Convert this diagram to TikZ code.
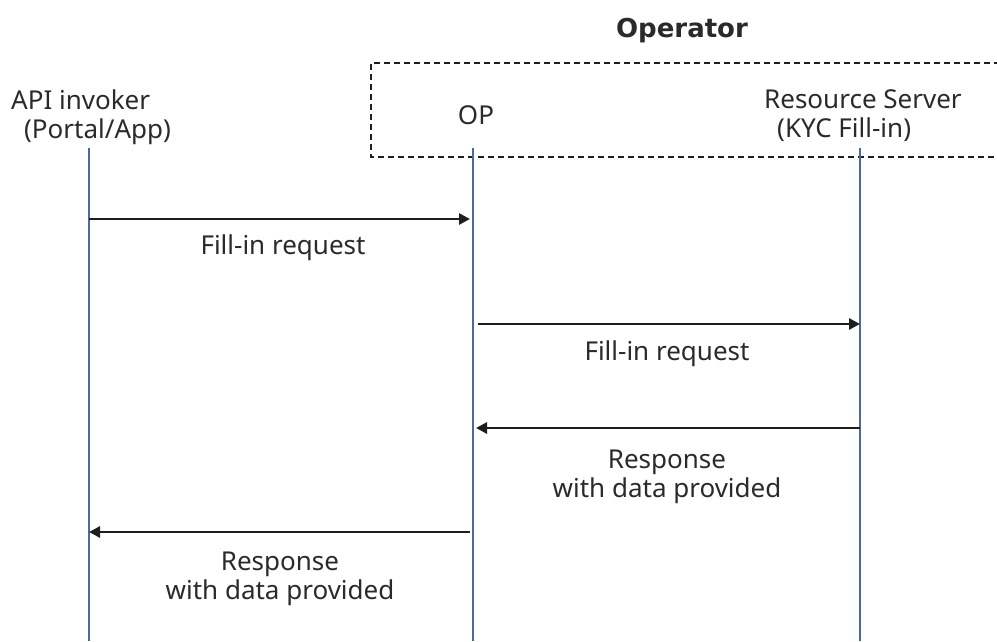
\documentclass[tikz,border=0pt]{standalone}
\usepackage{fontspec}
\setmainfont{Noto Sans}
\newfontfamily\headfont{DejaVu Sans}
\usetikzlibrary{arrows.meta}
\definecolor{lifeblue}{HTML}{4A6A9C}
\definecolor{msgdark}{HTML}{1E1E1E}
\definecolor{textdark}{HTML}{2A2A2A}
\tikzset{
  lifeline/.style={draw=lifeblue, line width=2.2pt},
  msg/.style={draw=msgdark, line width=2.8pt, -{Triangle[length=11pt,width=11pt]}},
  lbl/.style={text=textdark, font=\fontsize{26}{29}\selectfont, align=center, inner sep=0pt},
  grouping/.style={draw=msgdark, line width=1.1pt, dash pattern=on 6pt off 4pt}
}
\begin{document}
\begin{tikzpicture}[x=1pt,y=-1pt]
\useasboundingbox (0,0) rectangle (997,641);

% operator group, open on the right
\draw[grouping] (1000,63) -- (371,63) -- (371,157) -- (1000,157);
\node[lbl, font=\headfont\bfseries\fontsize{26}{29}\selectfont] (opgroup) at (682,31) {Operator};

% participants
\node[lbl, align=left, anchor=west] (invoker) at (11,117) {API invoker\\\hspace{13pt}(Portal/App)};
\node[lbl] (op) at (476,115) {OP};
\node[lbl, align=left, anchor=west] (rs) at (764,116) {Resource Server\\\hspace{13pt}(KYC Fill-in)};

% lifeline ends
\coordinate (i0) at (89,148);  \coordinate (i1) at (89,641);
\coordinate (o0) at (473,148); \coordinate (o1) at (473,641);
\coordinate (r0) at (860,148); \coordinate (r1) at (860,641);
\draw[lifeline] (i0) -- (i1);
\draw[lifeline] (o0) -- (o1);
\draw[lifeline] (r0) -- (r1);

% messages
\coordinate (m1a) at (89,219);  \coordinate (m1b) at (470,219);
\coordinate (m2a) at (478,324); \coordinate (m2b) at (860,324);
\coordinate (m3a) at (860,428); \coordinate (m3b) at (476,428);
\coordinate (m4a) at (470,532); \coordinate (m4b) at (89,532);
\draw[msg] (m1a) -- (m1b);
\draw[msg] (m2a) -- (m2b);
\draw[msg] (m3a) -- (m3b);
\draw[msg] (m4a) -- (m4b);

\node[lbl] (l1) at (283,248) {Fill-in request};
\node[lbl] (l2) at (667,354) {Fill-in request};
\node[lbl] (l3) at (667,477) {Response\\with data provided};
\node[lbl] (l4) at (280,579) {Response\\with data provided};
\end{tikzpicture}
\end{document}
